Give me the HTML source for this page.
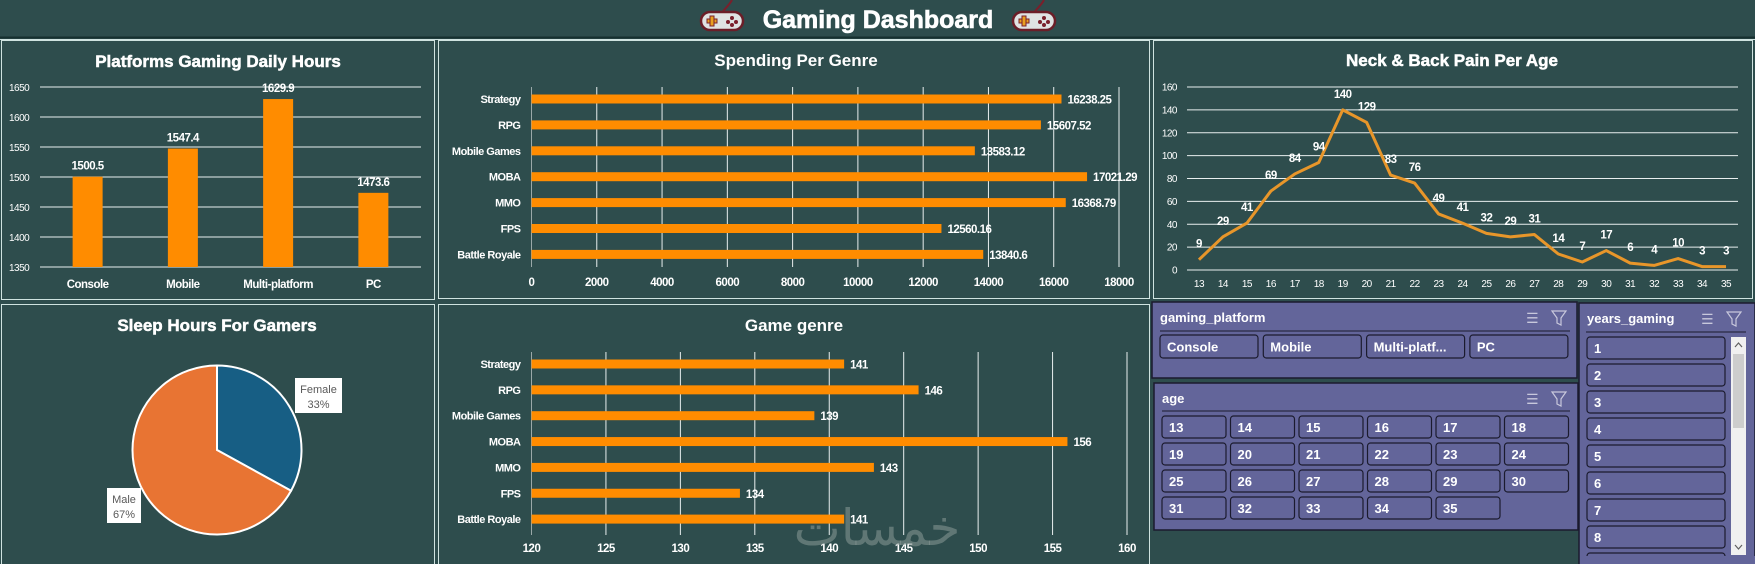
<!DOCTYPE html>
<html><head><meta charset="utf-8"><title>Gaming Dashboard</title>
<style>
html,body{margin:0;padding:0;background:#2e4d4d;width:1755px;height:564px;overflow:hidden}
svg{display:block}
.t{font-family:"Liberation Sans",sans-serif;font-weight:bold;fill:#fff}
.n{font-family:"Liberation Sans Narrow","Liberation Sans",sans-serif;fill:#fff;letter-spacing:-0.5px}
</style></head>
<body>
<svg id="dash" width="1755" height="564" viewBox="0 0 1755 564" xmlns="http://www.w3.org/2000/svg">
<rect x="0" y="0" width="1755" height="564" fill="#2e4d4d"/>
<g>
<rect x="0" y="0" width="1755" height="37" fill="#2e4d4d"/>
<line x1="0" y1="37.5" x2="1755" y2="37.5" stroke="#16302f" stroke-width="2"/>
<line x1="0" y1="39.5" x2="1755" y2="39.5" stroke="#cfe3e0" stroke-width="1"/>
<g transform="translate(722,21)">
<path d="M0,-8 C2,-12 6,-14 10,-21" stroke="#7a1f2b" stroke-width="2" fill="none"/>
<rect x="-21" y="-9" width="42" height="18" rx="9" fill="#dfe3e3" stroke="#6b1e28" stroke-width="2.5"/>
<rect x="-15" y="-2" width="10" height="4" fill="#e8a020" stroke="#7a1f2b" stroke-width="1"/><rect x="-12" y="-5" width="4" height="10" fill="#e8a020" stroke="#7a1f2b" stroke-width="1"/>
<circle cx="10" cy="-3" r="2" fill="#7a1f2b"/><circle cx="14" cy="1" r="2" fill="#7a1f2b"/><circle cx="6" cy="1" r="2" fill="#7a1f2b"/><circle cx="10" cy="4" r="2" fill="#7a1f2b"/>
</g>
<text class="t" x="878" y="28" font-size="25" text-anchor="middle" font-weight="900" stroke="#fff" stroke-width="0.6">Gaming Dashboard</text>
<g transform="translate(1034,21)">
<path d="M0,-8 C2,-12 6,-14 10,-21" stroke="#7a1f2b" stroke-width="2" fill="none"/>
<rect x="-21" y="-9" width="42" height="18" rx="9" fill="#dfe3e3" stroke="#6b1e28" stroke-width="2.5"/>
<rect x="-15" y="-2" width="10" height="4" fill="#e8a020" stroke="#7a1f2b" stroke-width="1"/><rect x="-12" y="-5" width="4" height="10" fill="#e8a020" stroke="#7a1f2b" stroke-width="1"/>
<circle cx="10" cy="-3" r="2" fill="#7a1f2b"/><circle cx="14" cy="1" r="2" fill="#7a1f2b"/><circle cx="6" cy="1" r="2" fill="#7a1f2b"/><circle cx="10" cy="4" r="2" fill="#7a1f2b"/>
</g>
</g>
<rect x="1.5" y="40.5" width="433" height="259" fill="none" stroke="#cfe3e0"/>
<rect x="438.5" y="40.5" width="711" height="258" fill="none" stroke="#cfe3e0"/>
<rect x="1153.5" y="40.5" width="599" height="258" fill="none" stroke="#cfe3e0"/>
<rect x="1.5" y="304.5" width="433" height="262" fill="none" stroke="#cfe3e0"/>
<rect x="438.5" y="304.5" width="711" height="262" fill="none" stroke="#cfe3e0"/>
<text class="t" x="218" y="67" font-size="17" text-anchor="middle" stroke="#fff" stroke-width="0.5">Platforms Gaming Daily Hours</text>
<text class="t" x="796" y="66" font-size="17" text-anchor="middle">Spending Per Genre</text>
<text class="t" x="1452" y="66" font-size="17" text-anchor="middle" stroke="#fff" stroke-width="0.5">Neck &amp; Back Pain Per Age</text>
<text class="t" x="217" y="331" font-size="17" text-anchor="middle" stroke="#fff" stroke-width="0.5">Sleep Hours For Gamers</text>
<text class="t" x="794" y="331" font-size="17" text-anchor="middle">Game genre</text>
<g id="c1"></g><g id="c2"></g><g id="c3"></g><g id="c4"></g><g id="c5"></g>
<text x="877" y="545" font-size="50" text-anchor="middle" fill="#8a9a98" fill-opacity="0.55" font-family="'Noto Sans CJK SC','DejaVu Sans',sans-serif">خمسات</text>
<g id="slicers"></g>
</svg>
<script>
const platformCats = ["Console","Mobile","Multi-platform","PC"];
const platformHours = [1500.5,1547.4,1629.9,1473.6];
const platformTicks = [1350,1400,1450,1500,1550,1600,1650];
const genreCats = ["Strategy","RPG","Mobile Games","MOBA","MMO","FPS","Battle Royale"];
const genreSpending = [16238.25,15607.52,13583.12,17021.29,16368.79,12560.16,13840.6];
const spendingTicks = [0,2000,4000,6000,8000,10000,12000,14000,16000,18000];
const painAges = [13,14,15,16,17,18,19,20,21,22,23,24,25,26,27,28,29,30,31,32,33,34,35];
const painCounts = [9,29,41,69,84,94,140,129,83,76,49,41,32,29,31,14,7,17,6,4,10,3,3];
const painTicks = [0,20,40,60,80,100,120,140,160];
const sleepCats = ["Female","Male"];
const sleepShares = [33,67];
const genreCounts = [141,146,139,156,143,134,141];
const countTicks = [120,125,130,135,140,145,150,155,160];
const platformSlicer = ["Console","Mobile","Multi-platf...","PC"];
const ageSlicer = painAges;
const yearsSlicer = [1,2,3,4,5,6,7,8,9];

const NS="http://www.w3.org/2000/svg";
function mk(tag,attrs,parent,txt){const e=document.createElementNS(NS,tag);for(const k in attrs)e.setAttribute(k,attrs[k]);if(txt!==undefined)e.textContent=txt;parent.appendChild(e);return e;}
const ORANGE="#ff8c00";

(function(){
 const g=document.getElementById('c1');
 const L=40,R=421,T=87,B=267,lo=1350,hi=1650;
 const y=v=>B-(v-lo)/(hi-lo)*(B-T);
 const bw=(R-L)/platformCats.length;
 platformTicks.forEach(t=>{
  const l=mk('line',{x1:L,x2:R,y1:y(t),y2:y(t),stroke:'#e8eeee','stroke-width':1},g);
  
  
  const tx=mk('text',{x:9,y:y(t)+4,'font-size':10,class:'n'},g,String(t));
  
  
 });
 platformCats.forEach((c,i)=>{
  const cx=L+bw*(i+0.5),v=platformHours[i];
  const r=mk('rect',{x:cx-15,y:y(v),width:30,height:B-y(v),fill:ORANGE},g);
  
  
  const vl=mk('text',{x:cx,y:y(v)-7,'font-size':11.5,'font-weight':'bold','text-anchor':'middle',class:'n'},g,String(v));
  
  
  const cl=mk('text',{x:cx,y:288,'font-size':11.5,'font-weight':'bold','text-anchor':'middle',class:'n'},g,c);
  
  
 });
})();

function hbar(gid,vals,ticks,lo,hi,L,R,T,B,cy0,step,tickY,fmt){
 const g=document.getElementById(gid);
 const x=v=>L+(v-lo)/(hi-lo)*(R-L);
 ticks.forEach(t=>{
  const l=mk('line',{x1:x(t),x2:x(t),y1:T,y2:B,stroke:t===lo?'#9aa8a8':'#e8eeee','stroke-width':1},g);
  
  
  const tx=mk('text',{x:x(t),y:tickY,'font-size':11.5,'font-weight':'bold','text-anchor':'middle',class:'n'},g,String(t));
  
  
 });
 genreCats.forEach((c,i)=>{
  const cy=cy0+i*step,v=vals[i];
  const r=mk('rect',{x:x(lo),y:cy-4.5,width:x(v)-x(lo),height:9,fill:ORANGE},g);
  
  
  const cl=mk('text',{x:L-11,y:cy+4,'font-size':11,'font-weight':'bold','text-anchor':'end',class:'n'},g,c);
  
  
  const vl=mk('text',{x:x(v)+6,y:cy+4.5,'font-size':11.5,'font-weight':'bold',class:'n'},g,fmt(v));
  
  
 });
}
hbar('c2',genreSpending,spendingTicks,0,18000,531.5,1119,87,267,99,25.9,286,v=>String(v));
hbar('c5',genreCounts,countTicks,120,160,531.5,1127,352,535,364,25.85,552,v=>String(v));

(function(){
 const g=document.getElementById('c3');
 const L=1187,R=1738,T=87,B=270,hi=160;
 const y=v=>B-v/hi*(B-T);
 const bw=(R-L)/painAges.length;
 const x=i=>L+bw*(i+0.5);
 painTicks.forEach(t=>{
  const l=mk('line',{x1:L,x2:R,y1:y(t),y2:y(t),stroke:'#e8eeee','stroke-width':1},g);
  
  
  const tx=mk('text',{x:1177,y:y(t)+3.5,'font-size':10,'text-anchor':'end',class:'n'},g,String(t));
  
  
 });
 painAges.forEach((a,i)=>{
  const tx=mk('text',{x:x(i),y:287,'font-size':10,'text-anchor':'middle',class:'n'},g,String(a));
  
  
 });
 const pts=painCounts.map((v,i)=>x(i)+','+y(v)).join(' ');
 const pl=mk('polyline',{points:pts,fill:'none',stroke:'#e8962a','stroke-width':3,'stroke-linejoin':'round'},g);
 
 
 painCounts.forEach((v,i)=>{
  const tx=mk('text',{x:x(i),y:y(v)-12,'font-size':11.5,'font-weight':'bold','text-anchor':'middle',class:'n'},g,String(v));
  
  
 });
})();

(function(){
 const g=document.getElementById('c4');
 const cx=217,cy=450,r=84.5;
 const colors=['#175e84','#e87433'];
 const total=sleepShares.reduce((a,b)=>a+b,0);
 let a0=0;
 const boxes=[{x:295,y:378},{x:107,y:488}];
 sleepShares.forEach((v,i)=>{
  const a1=a0+v/total*2*Math.PI;
  const p=(a)=>[cx+r*Math.sin(a),cy-r*Math.cos(a)];
  const [x0,y0]=p(a0),[x1,y1]=p(a1);
  const large=(a1-a0)>Math.PI?1:0;
  const s=mk('path',{d:`M${cx},${cy}L${x0},${y0}A${r},${r} 0 ${large} 1 ${x1},${y1}Z`,fill:colors[i],stroke:'#ffffff','stroke-width':2},g);
  
  
  const b=boxes[i];
  const w=i===0?47:34;
  const bx=mk('rect',{x:b.x,y:b.y,width:w,height:35,fill:'#ffffff'},g);
  
  
  const t1=mk('text',{x:b.x+w/2,y:b.y+15,'font-size':11,'text-anchor':'middle','font-family':'Liberation Sans Narrow, Liberation Sans, sans-serif',fill:'#595959'},g,sleepCats[i]);
  
  
  const t2=mk('text',{x:b.x+w/2,y:b.y+30,'font-size':11,'text-anchor':'middle','font-family':'Liberation Sans Narrow, Liberation Sans, sans-serif',fill:'#595959'},g,Math.round(v/total*100)+'%');
  
  
  a0=a1;
 });
})();

(function(){
 const g=document.getElementById('slicers');
 const PANEL='#63659a',BD='#1b1b2e';
 function panel(name,x,y,w,h,title,ix){
  const p=mk('rect',{x:x,y:y,width:w,height:h,fill:PANEL,stroke:BD,'stroke-width':1.5},g);
  
  
  const t=mk('text',{x:x+8,y:y+20,'font-size':13,'font-weight':'bold','font-family':'Liberation Sans, sans-serif',fill:'#fff'},g,title);
  
  
  const ic=mk('text',{x:ix,y:y+21,'font-size':14,fill:'#c8c8dc','font-family':'DejaVu Sans, sans-serif'},g,'☰');
  
  
  const fl=mk('path',{d:`M${ix+26},${y+9}h14l-5,7v7l-4,-2v-5z`,fill:'none',stroke:'#c8c8dc','stroke-width':1.2},g);
  
  
 }
 function btn(x,y,w,h,label){
  const b=mk('rect',{x:x,y:y,width:w,height:h,rx:3,fill:PANEL,stroke:BD,'stroke-width':1.2},g);
  
  
  const t=mk('text',{x:x+7,y:y+h/2+5,'font-size':13,'font-weight':'bold','font-family':'Liberation Sans, sans-serif',fill:'#fff'},g,String(label));
  
  
 }
 panel('gaming-platform-slicer',1152,302,425,76,'gaming_platform',1526);
 mk('line',{x1:1160,x2:1570,y1:331,y2:331,stroke:BD,'stroke-width':1},g);
 platformSlicer.forEach((p,i)=>btn(1160+i*103.3,335,98,23,p));
 panel('age-slicer',1154,383,424,147,'age',1526);
 mk('line',{x1:1162,x2:1570,y1:411,y2:411,stroke:BD,'stroke-width':1},g);
 ageSlicer.forEach((a,i)=>btn(1162+(i%6)*68.5,416+Math.floor(i/6)*27,64,22,a));
 panel('years-gaming-slicer',1579,303,176,262,'years_gaming',1701);
 mk('line',{x1:1586,x2:1746,y1:332,y2:332,stroke:BD,'stroke-width':1},g);
 yearsSlicer.forEach((v,i)=>btn(1587,337+i*27,138,22,v));
 const sb=mk('rect',{x:1731,y:337,width:15,height:218,fill:'#f0f0f0'},g);
 
 
 const th=mk('rect',{x:1733,y:354,width:11,height:74,fill:'#cdcdcd'},g);
 
 
 mk('path',{d:'M1735,347l3.5,-4l3.5,4',fill:'none',stroke:'#606060','stroke-width':1.2},g);
 mk('path',{d:'M1735,545l3.5,4l3.5,-4',fill:'none',stroke:'#606060','stroke-width':1.2},g);
 const cover=mk('rect',{x:1580,y:556,width:175,height:8,fill:PANEL},g);
 
 
})();
</script>
</body></html>
